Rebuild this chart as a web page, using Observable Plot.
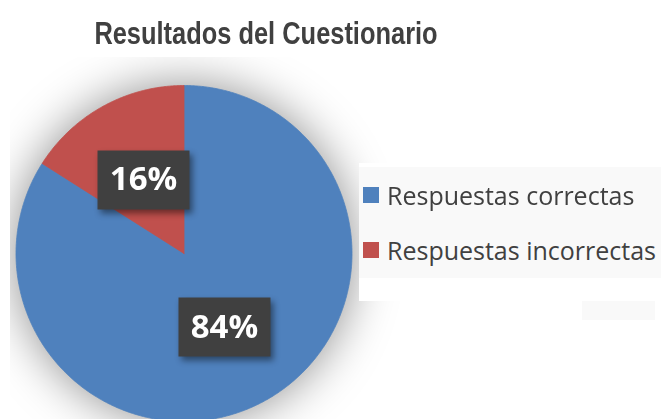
<!DOCTYPE html>
<html><head><meta charset="utf-8">
<script src="https://cdn.jsdelivr.net/npm/d3@7"></script>
<script src="https://cdn.jsdelivr.net/npm/@observablehq/plot@0.6"></script>
<style>
body{margin:0;background:#fff;}
#wrap{position:relative;width:661px;height:419px;overflow:hidden;background:#fff;}
#wrap svg.main{position:absolute;left:0;top:0;}
#title{position:absolute;left:0;width:532px;top:19px;text-align:center;font-weight:bold;font-size:31px;font-family:"Liberation Sans","Arial",sans-serif;color:#404040;line-height:30px;white-space:nowrap;transform:scaleX(0.82);transform-origin:266px 0;}
#legbox{position:absolute;left:359px;top:163px;width:302px;height:138px;background:#fff;}
#leg{position:absolute;left:0;top:4px;width:302px;height:111px;background:#f9f9f9;padding-left:4px;box-sizing:border-box;}
#patch{position:absolute;left:582px;top:301px;width:73px;height:19px;background:#f9f9f9;}
#leg .lg-swatches{font-family:"Open Sans",sans-serif;font-size:25px;color:#404040;margin:0;}
#leg .lg-swatch{height:55px;display:flex;align-items:center;padding:0;margin:0;}
#leg .lg-swatch > svg{margin-right:8px;}
</style>
</head><body>
<div id="wrap">
  <div id="chart"></div>
  <div id="title">Resultados del Cuestionario</div>
  <div id="legbox"><div id="leg"></div></div>
  <div id="patch"></div>
</div>
<script>
const categories = ["Respuestas correctas", "Respuestas incorrectas"];
const values = [84, 16];
const colors = ["#4F81BD", "#C0504D"];

const slices = d3.pie().sort(null).value(d => d.value)(
  categories.map((c, i) => ({category: c, value: values[i]}))
);
const outline = [];
slices.forEach(s => {
  const steps = Math.max(2, Math.ceil((s.endAngle - s.startAngle) / (Math.PI / 360)));
  outline.push({category: s.data.category, x: 0, y: 0});
  for (let k = 0; k <= steps; k++) {
    const a = s.startAngle + (s.endAngle - s.startAngle) * k / steps;
    outline.push({category: s.data.category, x: Math.sin(a), y: Math.cos(a)});
  }
  outline.push({category: s.data.category, x: 0, y: 0});
});
const labels = slices.map(s => {
  const a = (s.startAngle + s.endAngle) / 2;
  return {category: s.data.category, text: s.data.value + "%", x: 0.5 * Math.sin(a), y: 0.5 * Math.cos(a)};
});

const boxSymbol = {draw(ctx) { ctx.rect(-46, -29.5, 92, 59); }};

const plot = Plot.plot({
  width: 661,
  height: 419,
  marginLeft: 10, marginTop: 57, marginRight: 0, marginBottom: 0,
  x: {domain: [-1, 1], range: [15.5, 351.5], axis: null},
  y: {domain: [-1, 1], range: [421, 85], axis: null},
  color: {domain: categories, range: colors},
  marks: [
    Plot.line(outline, {x: "x", y: "y", z: "category", fill: "#000", fillOpacity: 0.45, stroke: "none", clip: true}),
    Plot.line(outline, {x: "x", y: "y", z: "category", fill: "category", stroke: "category", strokeWidth: 0.8}),
    Plot.dot(labels, {x: "x", y: "y", symbol: boxSymbol, fill: "#404040", stroke: "none"}),
    Plot.text(labels, {x: "x", y: "y", text: "text", fill: "#fff", fontSize: 33, fontWeight: "bold", fontFamily: "Open Sans"})
  ]
});
plot.classList.add("main");
document.getElementById("chart").appendChild(plot);
const lines = plot.querySelectorAll('g[aria-label="line"]');
if (lines.length) lines[0].style.filter = "blur(24px)";
const dots = plot.querySelectorAll('g[aria-label="dot"]');
if (dots.length) dots[0].style.filter = "drop-shadow(3px 4px 3px rgba(0,0,0,0.45))";

const leg = plot.legend("color", {legend: "swatches", columns: 1, swatchSize: 16, className: "lg"});
document.getElementById("leg").appendChild(leg);
</script>
</body></html>
